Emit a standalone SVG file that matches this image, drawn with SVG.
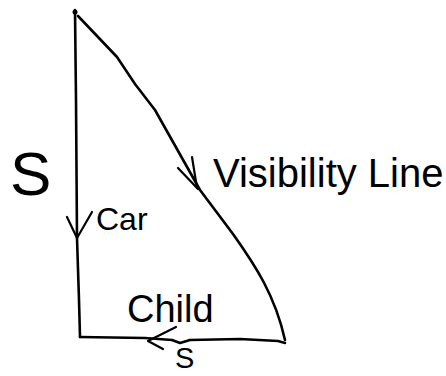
<svg xmlns="http://www.w3.org/2000/svg" width="446" height="376" viewBox="0 0 446 376">
<style>
.ln{fill:none;stroke:#000;stroke-width:2.6;stroke-linecap:round;stroke-linejoin:round}
.th{fill:none;stroke:#000;stroke-width:2.2;stroke-linecap:round;stroke-linejoin:round}
.t{font-family:"Liberation Sans",Arial,sans-serif;fill:#000}
</style>
<rect width="446" height="376" fill="#fff"/>
<g id="triangle">
<path class="ln" d="M75,10 L76,100 L77,238 L79,300 L80,337"/>
<path class="ln" d="M80,337 L145,338 L172,340 L180,343 L190,340 L240,339 L278,341 L285,343"/>
<path class="ln" d="M78,16 L117,57 L135,84 L155,110 L200,190 L233,234 C255,265 275,295 285,340"/>
<circle cx="75" cy="12" r="2.5"/>
</g>
<g id="connectors">
<path class="th" d="M67,217 L77,238 L92,212"/>
<path class="th" d="M176,327 L148,341 L163,349"/>
<path class="th" d="M178,168 L198,189"/>
<path class="th" d="M192,157 L197,188"/>
</g>
<g id="labels">
<text class="t" x="10" y="195" font-size="62">S</text>
<text class="t" x="96" y="230" font-size="32">Car</text>
<text class="t" x="127" y="322" font-size="38">Child</text>
<text class="t" x="175" y="368" font-size="29">S</text>
<text class="t" x="213" y="187" font-size="40">Visibility Line</text>
</g>
</svg>
